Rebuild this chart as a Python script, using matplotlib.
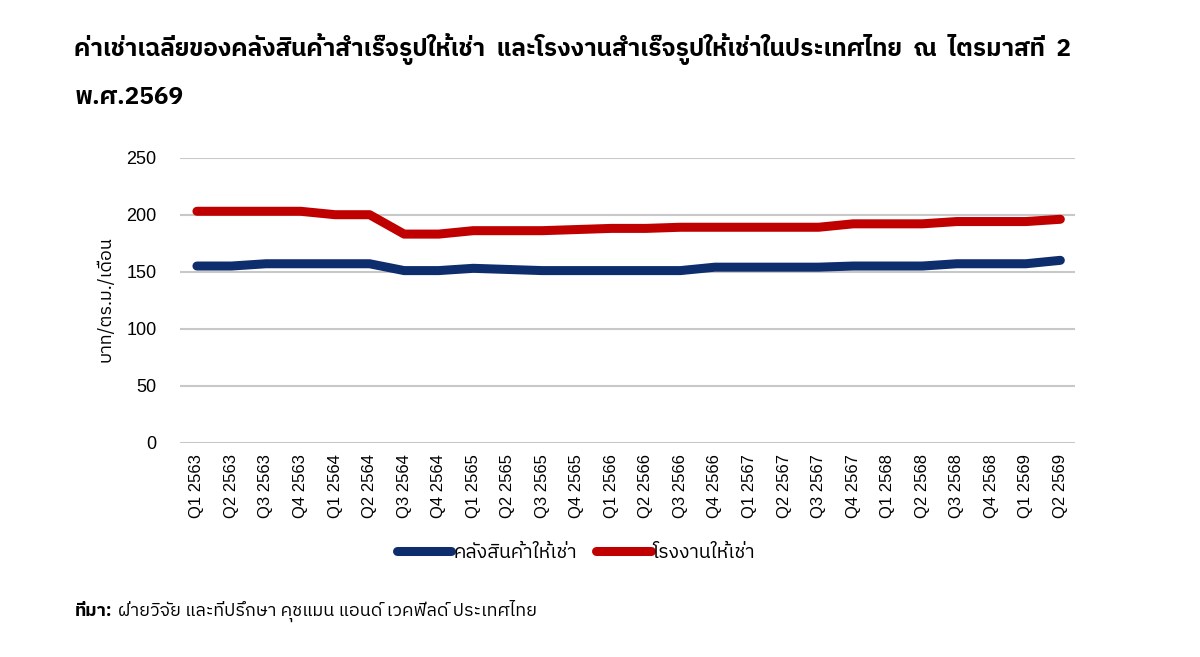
import matplotlib
matplotlib.use("Agg")
import matplotlib.pyplot as plt
from matplotlib import font_manager

quarters = ["Q1 2563", "Q2 2563", "Q3 2563", "Q4 2563",
            "Q1 2564", "Q2 2564", "Q3 2564", "Q4 2564",
            "Q1 2565", "Q2 2565", "Q3 2565", "Q4 2565",
            "Q1 2566", "Q2 2566", "Q3 2566", "Q4 2566",
            "Q1 2567", "Q2 2567", "Q3 2567", "Q4 2567",
            "Q1 2568", "Q2 2568", "Q3 2568", "Q4 2568",
            "Q1 2569", "Q2 2569"]
warehouse = [155, 155, 157, 157, 157, 157, 151, 151, 153, 152, 151, 151, 151,
             151, 151, 154, 154, 154, 154, 155, 155, 155, 157, 157, 157, 160]
factory = [203, 203, 203, 203, 200, 200, 183, 183, 186, 186, 186, 187, 188,
           188, 189, 189, 189, 189, 189, 192, 192, 192, 194, 194, 194, 196]
yticks = [0, 50, 100, 150, 200, 250]

names = sorted({f.name for f in font_manager.fontManager.ttflist})
thai_candidates = [n for n in names if "Thai" in n or "Loma" in n or "Garuda" in n or "Sarabun" in n]
fam = thai_candidates + ["DejaVu Sans"]
plt.rcParams["font.family"] = fam

fig = plt.figure(figsize=(12, 6.57), dpi=100)
ax = fig.add_axes([0.15, 0.326, 0.746, 0.434])

x = list(range(len(quarters)))
l1, = ax.plot(x, warehouse, color="#0d2d6c", lw=6.5, solid_capstyle="round",
              solid_joinstyle="round", label="คลังสินค้าให้เช่า")
l2, = ax.plot(x, factory, color="#c00000", lw=6.5, solid_capstyle="round",
              solid_joinstyle="round", label="โรงงานให้เช่า")

ax.set_ylim(0, 250)
ax.set_yticks(yticks)
ax.set_xlim(-0.49, 25.43)
ax.set_xticks(x)
ax.set_xticklabels(quarters, rotation=90, fontsize=12, family=["Liberation Sans", "DejaVu Sans"])
for lab in ax.get_yticklabels():
    lab.set_family(["Liberation Sans", "DejaVu Sans"])
ax.tick_params(axis="y", labelsize=13, length=0, pad=17)
ax.tick_params(axis="x", length=0, pad=8)
ax.grid(axis="y", color="#c8c8c8", lw=1.5)
ax.set_axisbelow(True)
for s in ax.spines.values():
    s.set_visible(False)

fig.text(0.088, 0.545, "บาท/ตร.ม./เดือน", rotation=90, ha="center", va="center",
         fontsize=13, family=fam)

fig.legend(handles=[l1, l2], loc="center", bbox_to_anchor=(0.48, 0.158), ncol=2,
           frameon=False, fontsize=14, handlelength=2.8, handletextpad=0.1,
           columnspacing=1.0)

fig.text(0.062, 0.925, "ค่าเช่าเฉลี่ยของคลังสินค้าสำเร็จรูปให้เช่า  และโรงงานสำเร็จรูปให้เช่าในประเทศไทย  ณ  ไตรมาสที่  2",
         fontsize=17.6, fontweight="bold", ha="left", va="center", family=fam)
fig.text(0.062, 0.852, "พ.ศ.2569", fontsize=17.6, fontweight="bold", ha="left",
         va="center", family=fam)

fig.text(0.062, 0.07, "ที่มา:", fontsize=13, fontweight="bold", style="italic",
         ha="left", va="center", family=fam)
fig.text(0.098, 0.07, "ฝ่ายวิจัย และที่ปรึกษา คุชแมน แอนด์ เวคฟีลด์ ประเทศไทย", fontsize=13,
         style="italic", ha="left", va="center", family=fam)

fig.savefig("out.png", dpi=100)
